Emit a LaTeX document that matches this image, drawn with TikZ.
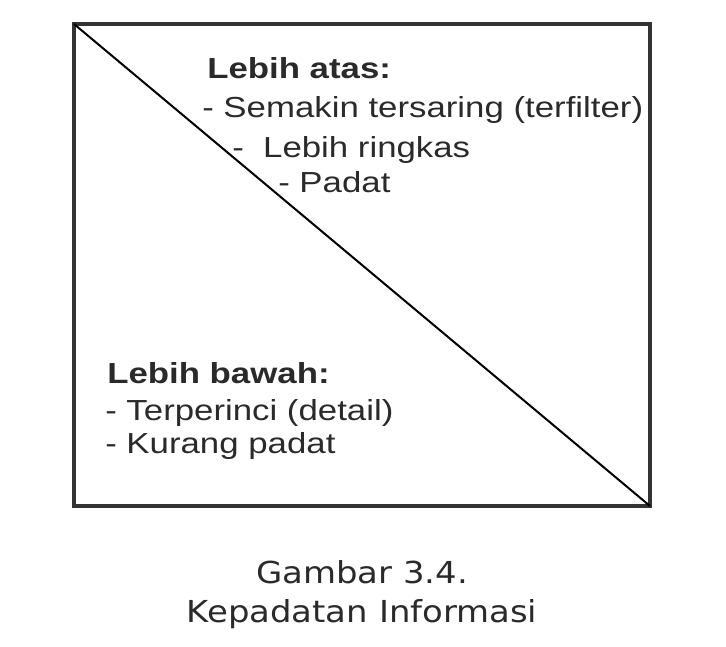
\documentclass[tikz,border=0pt]{standalone}
\usepackage{fontspec}
\setmainfont{Liberation Sans}[FakeStretch=1.2]
\newfontfamily\capfont{DejaVu Sans}[FakeStretch=1.12]
\usetikzlibrary{positioning}
\definecolor{edge}{HTML}{333333}
\definecolor{ink}{HTML}{2A2A2A}
\tikzset{
  txt/.style={anchor=base west, inner sep=0pt, text=ink, font=\fontsize{21.75pt}{26pt}\selectfont},
  head/.style={txt, font=\fontsize{21.75pt}{26pt}\selectfont\bfseries},
  captxt/.style={anchor=base, inner sep=0pt, text=ink, font=\capfont\fontsize{22.7pt}{30pt}\selectfont}
}

\begin{document}
\begin{tikzpicture}[x=0.75pt, y=-0.75pt]
    \useasboundingbox (0,0) rectangle (726,647);

    % Frame and diagonal
    \coordinate (tl) at (74,24);
    \coordinate (br) at (650,506);
    \draw[edge, line width=2.4pt] (tl) rectangle (br);
    \draw[black, line width=1.5pt] (tl) -- (br);

    % Upper triangle
    \node[head] (atas) at (207,78) {Lebih atas:};
    \node[txt] (saring) at (202,117) {- Semakin tersaring (terfilter)};
    \node[txt] (ringkas) at (232,157) {-\ \ Lebih ringkas};
    \node[txt] (padat) at (278,192) {- Padat};

    % Lower triangle
    \node[head] (bawah) at (107,383) {Lebih bawah:};
    \node[txt] (rinci) at (105,420) {- Terperinci (detail)};
    \node[txt] (kurang) at (105,453) {- Kurang padat};

    % Caption
    \node[captxt] (gambar) at (362,583) {Gambar 3.4.};
    \node[captxt] (judul) at (362,622) {Kepadatan Informasi};
\end{tikzpicture}
\end{document}
